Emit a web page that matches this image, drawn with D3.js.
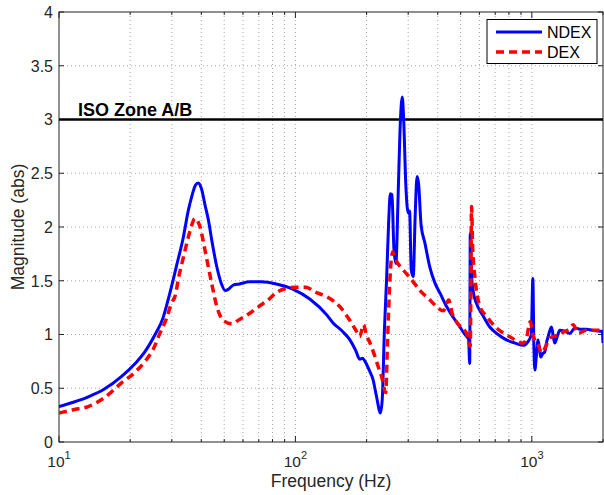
<!DOCTYPE html>
<html><head><meta charset="utf-8">
<script src="https://cdn.jsdelivr.net/npm/d3@7"></script>
<style>
body{margin:0;background:#fff;}
text{font-family:"Liberation Sans",Arial,Helvetica,sans-serif;}
</style></head>
<body><svg id="chart" width="604" height="495"></svg>
<script>
// ---- data ----
const ndexFreq = [10,11.5,13.3,15.5,18.4,21,23.1,25.5,27.5,29.4,31.5,33.6,35.2,36.4,37.8,38.8,40,41.5,42.8,44.5,46.5,48.5,50.5,52,54.6,58,64,72,83,98,115,136,144,158,170,180,187,192,197,205,213,220,229,233,238,243,248,252,256,261,266,272,277,283,287,293,300,304,309,315,321,327,332,340,353,370,389,410,436,465,496,530,540,546,549,556,565,583,620,664,720,781,850,919,960,995,1010,1020,1030,1045,1063,1080,1091,1110,1135,1155,1172,1211,1235,1250,1280,1313,1380,1448,1520,1600,1703,1800,1940,1985,2000];
const ndexVal  = [0.33,0.37,0.42,0.49,0.61,0.73,0.84,1.00,1.15,1.38,1.65,1.91,2.15,2.28,2.39,2.41,2.36,2.20,2.07,1.85,1.63,1.48,1.41,1.42,1.46,1.47,1.49,1.49,1.47,1.42,1.33,1.18,1.11,1.03,0.95,0.85,0.77,0.78,0.75,0.67,0.58,0.43,0.27,0.40,1.05,1.51,2.05,2.31,2.30,1.80,1.66,2.30,2.90,3.21,3.00,2.40,2.13,2.15,1.60,1.54,2.10,2.47,2.40,2.02,1.85,1.63,1.48,1.38,1.26,1.16,1.07,0.98,0.96,0.73,1.94,1.55,1.40,1.29,1.18,1.07,1.00,0.95,0.92,0.90,0.93,1.00,1.52,0.90,0.67,0.80,0.95,0.85,0.79,0.82,0.84,0.93,0.98,1.07,0.97,0.92,0.98,1.04,1.03,1.01,1.06,1.05,1.05,1.04,1.03,1.03,0.92];

const dexFreq = [10,11.5,13.3,15.5,18.4,21,23.1,25,26.7,28.5,30,30.9,32.2,33.6,35.8,37.6,39.5,41.4,42.8,44.2,46.5,49.6,53.7,58,64.3,70,75.5,84.5,92,101,111,120,136,154,170,180,187,194,200,206,215,224,232,241,245,251,258,263,268,286,310,336,371,400,422,445,460,496,530,540,549,556,562,574,603,643,709,807,919,950,985,1010,1064,1099,1140,1192,1271,1350,1440,1496,1570,1703,1850,2000];
const dexVal  = [0.27,0.30,0.33,0.41,0.55,0.65,0.75,0.86,1.01,1.15,1.30,1.35,1.55,1.72,1.96,2.08,2.00,1.79,1.63,1.48,1.26,1.13,1.10,1.14,1.20,1.26,1.31,1.40,1.43,1.44,1.44,1.40,1.35,1.26,1.13,1.04,0.98,1.09,0.99,0.93,0.82,0.70,0.60,0.46,0.90,1.51,1.77,1.72,1.68,1.60,1.51,1.41,1.32,1.25,1.22,1.32,1.20,1.08,1.01,0.93,0.89,2.19,1.80,1.54,1.26,1.17,1.06,0.98,0.92,0.97,1.12,1.00,0.90,0.83,0.88,0.97,0.99,1.02,1.05,1.09,1.01,1.04,1.04,1.04];

const isoLevel = 3;
const isoLabel = "ISO Zone A/B";
const yTicks = [0,0.5,1,1.5,2,2.5,3,3.5,4];
const yTickLabels = ["0","0.5","1","1.5","2","2.5","3","3.5","4"];
const xMajor = [10,100,1000];
const xMajorExp = ["1","2","3"];
const xMinor = [20,30,40,50,60,70,80,90,200,300,400,500,600,700,800,900,2000];
const seriesNames = ["NDEX","DEX"];

// ---- layout ----
const L = 59, R = 603, T = 12, B = 442;
const svg = d3.select("#chart");
const x = d3.scaleLog().domain([10,2000]).range([L,R]);
const y = d3.scaleLinear().domain([0,4]).range([B,T]);

// grid
const grid = svg.append("g").attr("stroke","#a8a8a8").attr("stroke-width",1).attr("stroke-dasharray","1,3");
xMajor.concat(xMinor).filter(d=>d>10&&d<2000).forEach(d=>{
  grid.append("line").attr("x1",x(d)).attr("x2",x(d)).attr("y1",T).attr("y2",B);
});
yTicks.filter(d=>d>0&&d<4).forEach(d=>{
  grid.append("line").attr("x1",L).attr("x2",R).attr("y1",y(d)).attr("y2",y(d));
});

// axes (box with inside ticks)
const ax = svg.append("g").attr("stroke","#222").attr("stroke-width",1).attr("fill","none");
ax.append("rect").attr("x",L).attr("y",T).attr("width",R-L).attr("height",B-T);
yTicks.forEach(d=>{
  ax.append("line").attr("x1",L).attr("x2",L+5).attr("y1",y(d)).attr("y2",y(d));
  ax.append("line").attr("x1",R).attr("x2",R-5).attr("y1",y(d)).attr("y2",y(d));
});
xMajor.forEach(d=>{
  ax.append("line").attr("x1",x(d)).attr("x2",x(d)).attr("y1",B).attr("y2",B-6);
  ax.append("line").attr("x1",x(d)).attr("x2",x(d)).attr("y1",T).attr("y2",T+6);
});
xMinor.forEach(d=>{
  ax.append("line").attr("x1",x(d)).attr("x2",x(d)).attr("y1",B).attr("y2",B-3);
  ax.append("line").attr("x1",x(d)).attr("x2",x(d)).attr("y1",T).attr("y2",T+3);
});

// tick labels
yTicks.forEach((d,i)=>{
  svg.append("text").attr("x",L-6).attr("y",y(d)).attr("dy","0.36em")
    .attr("text-anchor","end").attr("font-size",16).attr("fill","#262626").text(yTickLabels[i]);
});
xMajor.forEach((d,i)=>{
  const t = svg.append("text").attr("x",x(d)).attr("y",467)
    .attr("text-anchor","middle").attr("font-size",15.5).attr("fill","#262626");
  t.append("tspan").text("10");
  t.append("tspan").attr("dy",-8).attr("font-size",11).text(xMajorExp[i]);
});

// axis titles
svg.append("text").attr("x",(L+R)/2).attr("y",487).attr("text-anchor","middle")
  .attr("font-size",17.5).attr("fill","#262626").text("Frequency (Hz)");
svg.append("text").attr("transform",`translate(24,${(T+B)/2}) rotate(-90)`)
  .attr("text-anchor","middle").attr("font-size",17.5).attr("fill","#262626").text("Magnitude (abs)");

// ISO line
svg.append("line").attr("x1",L).attr("x2",R).attr("y1",y(isoLevel)).attr("y2",y(isoLevel))
  .attr("stroke","#000").attr("stroke-width",2.6);
svg.append("text").attr("x",78).attr("y",116).attr("font-size",18).attr("font-weight","bold")
  .attr("fill","#000").text(isoLabel);

// series
const line = d3.line().x(d=>x(d[0])).y(d=>y(d[1])).curve(d3.curveMonotoneX);
const ndex = ndexFreq.map((f,i)=>[f,ndexVal[i]]);
const dex = dexFreq.map((f,i)=>[f,dexVal[i]]);
const clip = svg.append("clipPath").attr("id","clip").append("rect").attr("x",L).attr("y",T).attr("width",R-L).attr("height",B-T);
svg.append("path").datum(ndex).attr("d",line).attr("fill","none").attr("stroke","#0000ff")
  .attr("stroke-width",3).attr("stroke-linejoin","round").attr("clip-path","url(#clip)");
svg.append("path").datum(dex).attr("d",line).attr("fill","none").attr("stroke","#ff0000")
  .attr("stroke-width",3.5).attr("stroke-dasharray","8,5").attr("clip-path","url(#clip)");

// legend
const lg = svg.append("g");
lg.append("rect").attr("x",487).attr("y",19.5).attr("width",110).attr("height",44)
  .attr("fill","#fff").attr("stroke","#000").attr("stroke-width",1);
lg.append("line").attr("x1",496).attr("x2",542).attr("y1",32).attr("y2",32).attr("stroke","#0000ff").attr("stroke-width",3);
lg.append("line").attr("x1",496).attr("x2",542).attr("y1",52).attr("y2",52).attr("stroke","#ff0000").attr("stroke-width",3.5).attr("stroke-dasharray","8,5");
lg.append("text").attr("x",547).attr("y",32).attr("dy","0.36em").attr("font-size",16).attr("fill","#000").text(seriesNames[0]);
lg.append("text").attr("x",547).attr("y",52).attr("dy","0.36em").attr("font-size",16).attr("fill","#000").text(seriesNames[1]);
</script></body></html>
